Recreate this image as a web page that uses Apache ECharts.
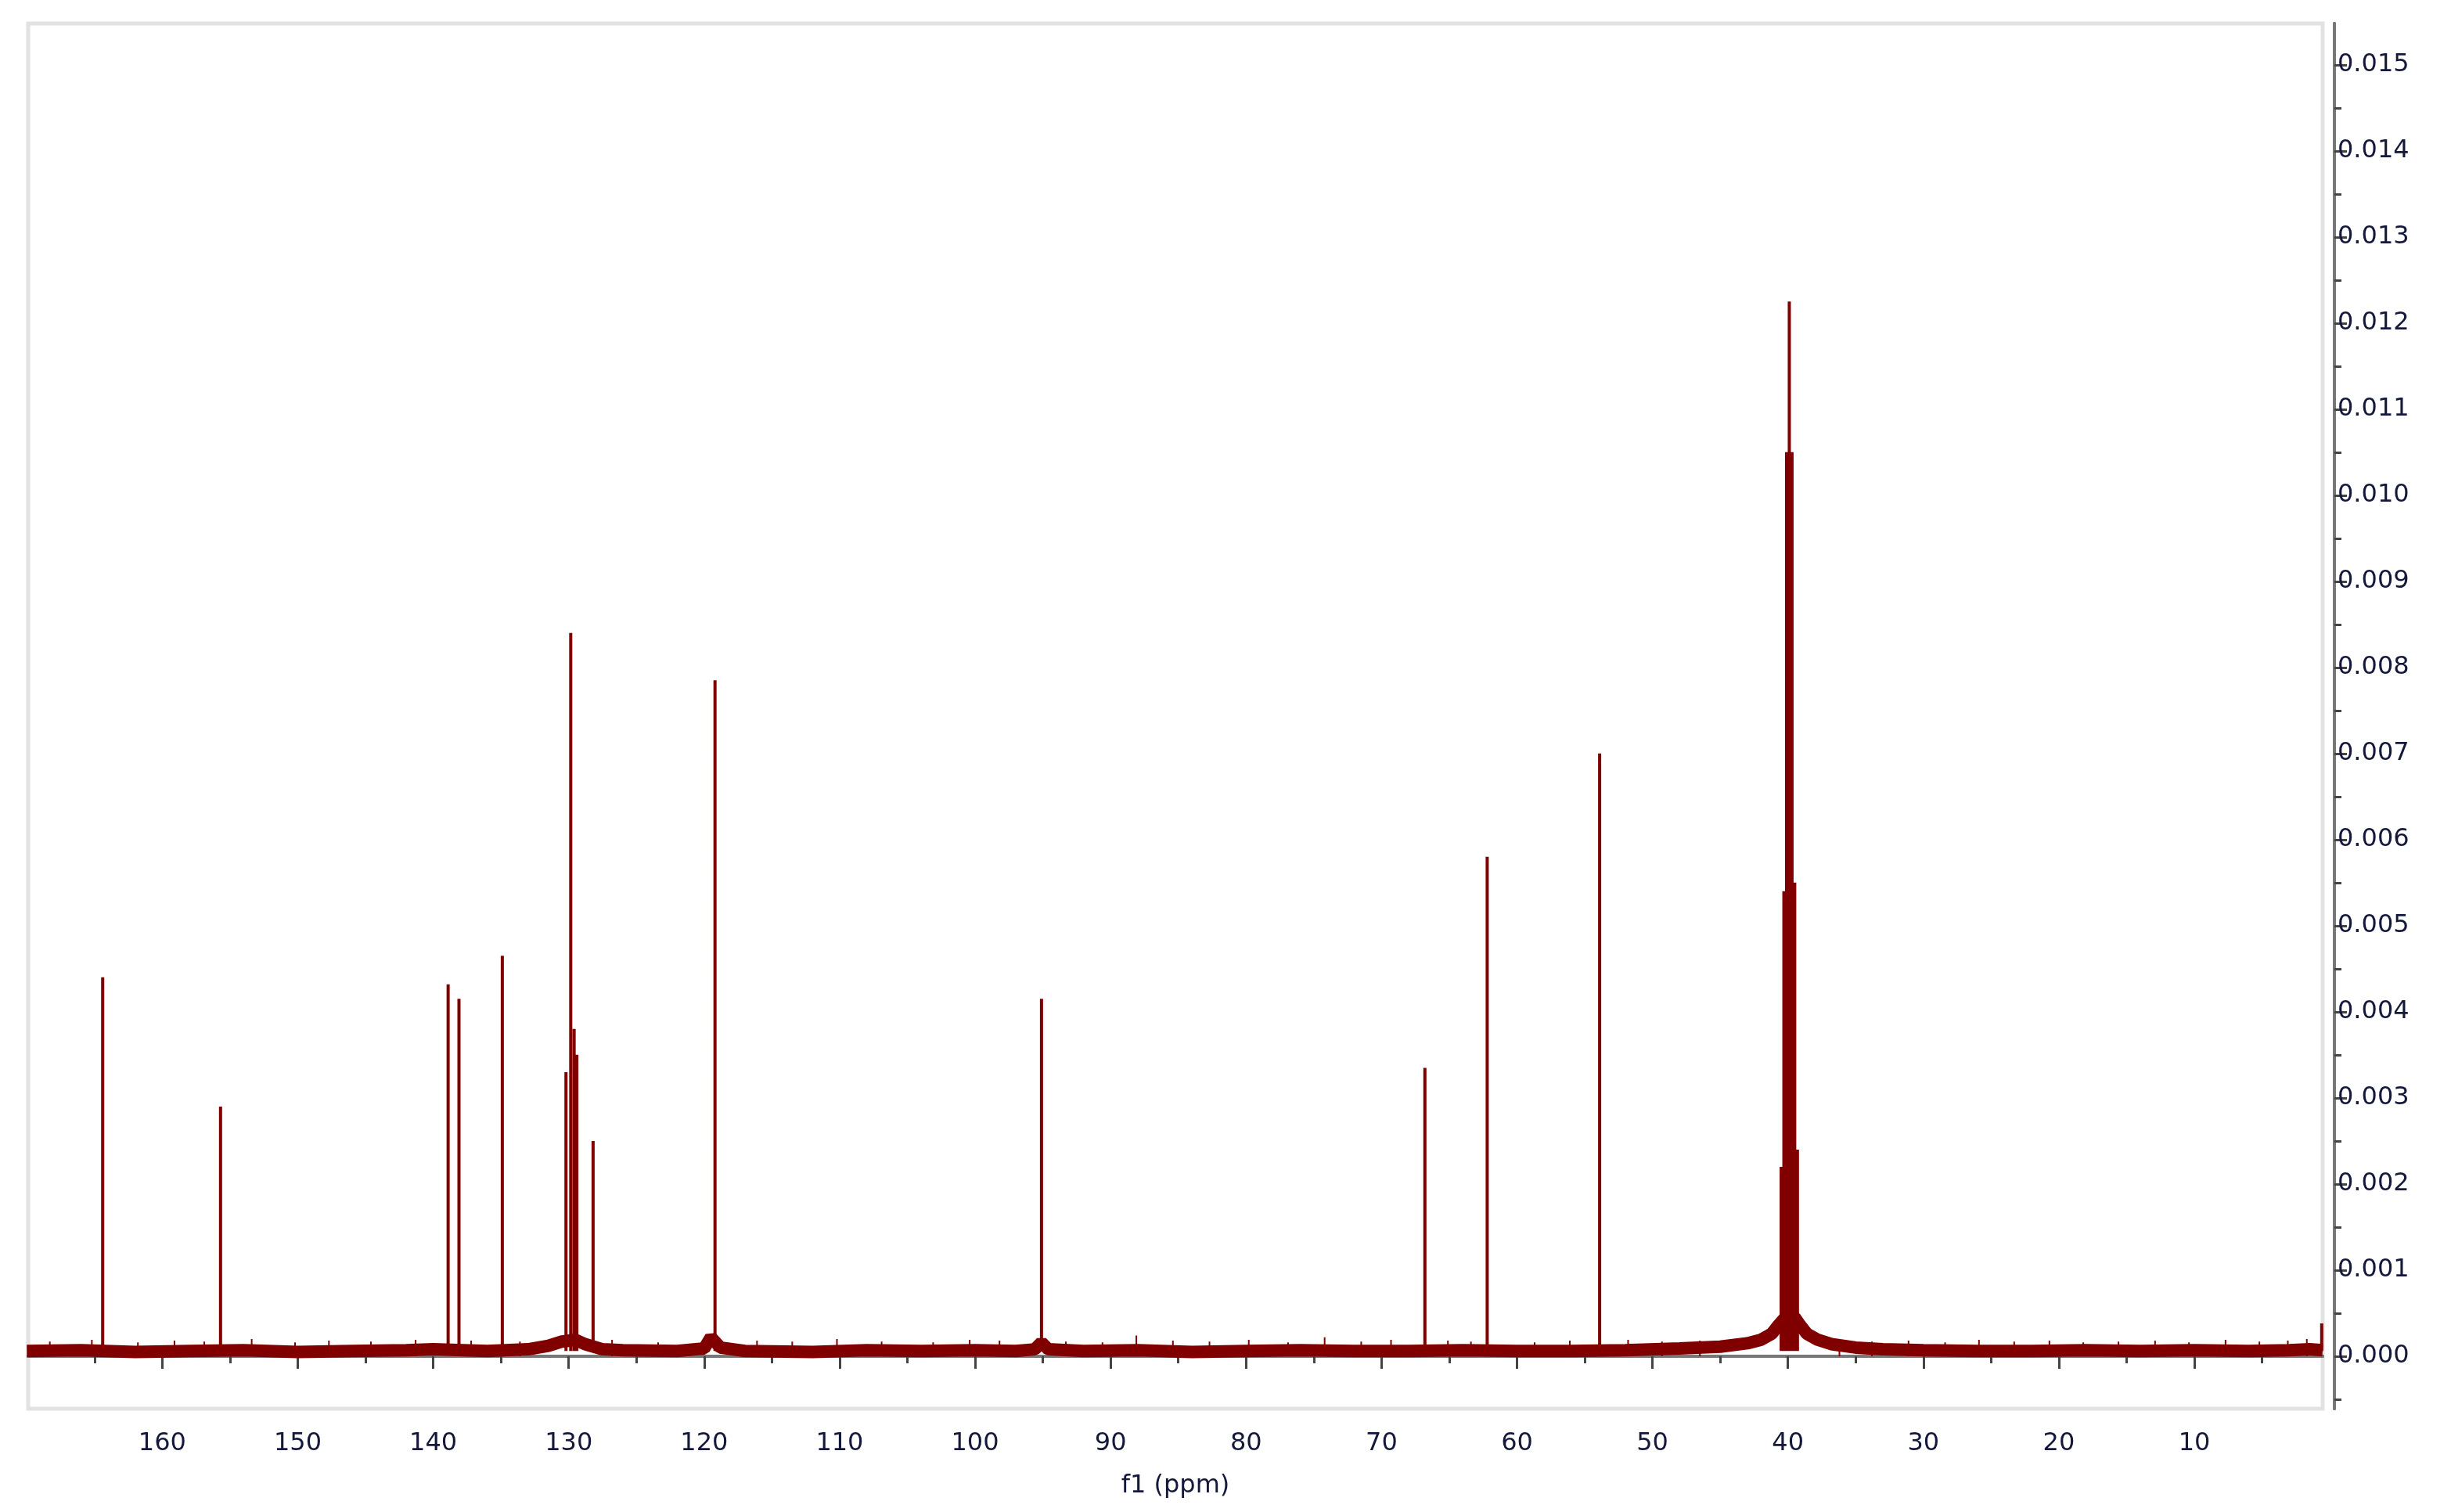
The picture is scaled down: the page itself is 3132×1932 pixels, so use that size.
<!DOCTYPE html>
<html>
<head>
<meta charset="utf-8">
<script src="https://cdn.jsdelivr.net/npm/echarts@6/dist/echarts.min.js"></script>
<style>
  html, body { margin: 0; padding: 0; background: #fff; }
  #chart { width: 3132px; height: 1932px; }
</style>
</head>
<body>
<div id="chart"></div>
<script>
// peak positions (ppm) and heights
const peakPpm = [164.4, 155.7, 138.9, 138.1, 134.9, 130.2, 129.85, 129.6, 129.4, 128.2, 119.2, 95.1,
  66.8, 62.2, 53.9, 40.5, 40.3, 40.1, 39.9, 39.7, 39.5, 39.3, 0.6];
const peakHeight = [0.0044, 0.0029, 0.00432, 0.00415, 0.00465, 0.0033, 0.0084, 0.0038, 0.0035, 0.0025, 0.00785, 0.00415,
  0.00335, 0.0058, 0.0070, 0.0022, 0.0054, 0.0105, 0.01225, 0.0105, 0.0055, 0.0024, 0.00038];

// baseline (noise band centre) points
const basePpm = [170, 166, 162, 158, 154, 150, 146, 142, 140, 136, 133, 131.5, 130.5, 129.5, 128.8, 127.5, 126,
  122, 120, 119.5, 118.8, 117, 112, 108, 104, 100, 97, 95.6, 95.1, 94.6, 92, 88, 84, 80, 76, 72, 68, 64,
  60, 56, 52, 48, 45, 43, 42, 41.2, 40.7, 40.2, 39.9, 39.5, 39.1, 38.6, 37.8, 36.8, 35, 33, 30, 26, 22, 18,
  14, 10, 6, 3, 1.5, 0.53];
const baseValue = [0.00006, 0.00007, 0.00005, 0.00006, 0.00007, 0.00005, 0.00006, 0.00007, 0.00008, 0.00006,
  0.00008, 0.00012, 0.00017, 0.00019, 0.00014, 0.00008, 0.00007,
  0.00006, 0.00009, 0.00022, 0.0001, 0.00006, 0.00005, 0.00007, 0.00006, 0.00007, 0.00006, 0.00008, 0.00016,
  0.00008, 0.00006, 0.00007, 0.00005, 0.00006, 0.00007, 0.00006, 0.00006, 0.00007,
  0.00006, 0.00006, 0.00007, 0.00009, 0.00011, 0.00015, 0.00019, 0.00026, 0.00036, 0.00045, 0.00045, 0.00045,
  0.00036, 0.00026, 0.00019, 0.00014, 0.0001, 0.00008, 0.00007, 0.00006, 0.00006, 0.00007,
  0.00006, 0.00007, 0.00006, 0.00007, 0.00008, 0.00007];

// small noise spikes above the band
const noisePpm = [168.3, 165.2, 161.8, 159.1, 156.9, 153.4, 150.2, 147.7, 144.6, 141.3, 137.2, 133.6, 126.8,
  123.4, 116.1, 113.5, 110.2, 106.9, 103.1, 100.4, 98.2, 93.3, 90.6, 88.1, 85.4, 82.7, 79.8, 76.9, 74.2,
  71.5, 69.3, 65.1, 63.4, 58.7, 56.1, 51.8, 49.3, 46.5, 36.2, 33.8, 31.1, 28.4, 25.9, 23.3, 20.7, 18.2,
  15.6, 12.9, 10.4, 7.7, 5.2, 3.1, 1.7];
const noiseHeight = [0.00017, 0.00019, 0.00016, 0.00018, 0.00017, 0.0002, 0.00016, 0.00018, 0.00017, 0.00019,
  0.00018, 0.00017, 0.00019, 0.00016, 0.00018, 0.00017, 0.0002, 0.00017, 0.00016, 0.00019, 0.00018, 0.00017,
  0.00016, 0.00024, 0.00018, 0.00017, 0.00019, 0.00016, 0.00022, 0.00017, 0.00019, 0.00018, 0.00017, 0.00016,
  0.00018, 0.00019, 0.00017, 0.00018, 0.00019, 0.00017, 0.00018, 0.00016, 0.00019, 0.00017, 0.00018, 0.00016,
  0.00017, 0.00018, 0.00016, 0.00019, 0.00017, 0.00018, 0.0002];

const xLabels = [10, 20, 30, 40, 50, 60, 70, 80, 90, 100, 110, 120, 130, 140, 150, 160];
const xMinor = [5, 15, 25, 35, 45, 55, 65, 75, 85, 95, 105, 115, 125, 135, 145, 155, 165];
const yLabels = [0, 0.001, 0.002, 0.003, 0.004, 0.005, 0.006, 0.007, 0.008, 0.009, 0.010, 0.011, 0.012, 0.013, 0.014, 0.015];
const yMinor = [-0.0005, 0.0005, 0.0015, 0.0025, 0.0035, 0.0045, 0.0055, 0.0065, 0.0075, 0.0085, 0.0095,
  0.0105, 0.0115, 0.0125, 0.0135, 0.0145];

const RED = '#800000';
const X_MIN = 0.53, X_MAX = 169.9, Y_MIN = -0.00061, Y_MAX = 0.01548;

const baseData = basePpm.map((p, i) => [p, baseValue[i]]);
const peakData = [];
peakPpm.forEach((p, i) => {
  peakData.push([p, 0.00006], [p, peakHeight[i]], '-');
});
const noiseData = [];
noisePpm.forEach((p, i) => {
  noiseData.push([p, 0.0], [p, noiseHeight[i]], '-');
});

const font = 'DejaVu Sans';
const labelColor = '#14183a';

function xAxisOf(ticks, len, showLabel, name) {
  return {
    type: 'value', inverse: true, min: X_MIN, max: X_MAX, position: 'bottom', offset: 13,
    name: name, nameLocation: 'middle', nameGap: 70,
    nameTextStyle: { fontFamily: font, fontSize: 32, color: labelColor },
    axisLine: { show: true, lineStyle: { color: '#777', width: 4 } },
    axisTick: { show: true, customValues: ticks, length: len, lineStyle: { color: '#444', width: 3 } },
    axisLabel: { show: showLabel, customValues: ticks, fontFamily: font, fontSize: 32, color: labelColor, margin: 16 },
    splitLine: { show: false }
  };
}
function yAxisOf(ticks, len, showLabel) {
  return {
    type: 'value', min: Y_MIN, max: Y_MAX, position: 'right', offset: 15,
    axisLine: { show: true, lineStyle: { color: '#777', width: 4 } },
    axisTick: { show: true, customValues: ticks, length: len, lineStyle: { color: '#444', width: 3 } },
    axisLabel: { show: showLabel, customValues: ticks, fontFamily: font, fontSize: 32, color: labelColor, margin: 4,
      formatter: v => v.toFixed(3) },
    splitLine: { show: false }
  };
}

const chart = echarts.init(document.getElementById('chart'));
chart.setOption({
  backgroundColor: '#fff',
  animation: false,
  grid: { left: 36, right: 164, top: 30, bottom: 132, show: true, borderColor: '#e2e2e2', borderWidth: 5 },
  xAxis: [xAxisOf(xLabels, 16, true, 'f1 (ppm)'), xAxisOf(xMinor, 9, false, '')],
  yAxis: [yAxisOf(yLabels, 16, true), yAxisOf(yMinor, 9, false)],
  series: [
    { type: 'line', data: baseData, symbol: 'none', lineStyle: { color: RED, width: 16 }, z: 2 },
    { type: 'line', data: noiseData, symbol: 'none', connectNulls: false, lineStyle: { color: RED, width: 2 }, z: 2 },
    { type: 'line', data: peakData, symbol: 'none', connectNulls: false, lineStyle: { color: RED, width: 4 }, z: 3 }
  ]
});
</script>
</body>
</html>
